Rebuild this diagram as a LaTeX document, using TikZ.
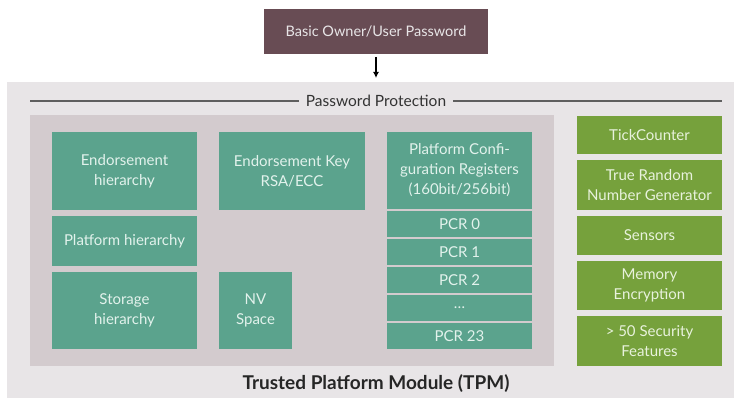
\documentclass[tikz,border=0pt]{standalone}
\usepackage{fontspec}
\setmainfont{Lato}
\usetikzlibrary{arrows.meta}
\definecolor{ownerMaroon}{RGB}{104,76,84}
\definecolor{moduleGray}{RGB}{232,229,231}
\definecolor{coreGray}{RGB}{211,203,206}
\definecolor{keyTeal}{RGB}{91,163,141}
\definecolor{featureGreen}{RGB}{118,161,60}
\definecolor{keyText}{RGB}{226,242,236}
\definecolor{featureText}{RGB}{232,242,220}
\definecolor{ruleGray}{RGB}{95,95,95}
\tikzstyle{tpmPicture} = [x = 1pt, y = -1pt]
\tikzstyle{panelStyle} = [inner sep = 0pt, outer sep = 0pt, draw = none, align = center]
\tikzstyle{keyStyle} = [panelStyle, fill = keyTeal, text = keyText, font = \fontsize{15}{20}\selectfont]
\tikzstyle{featureStyle} = [keyStyle, fill = featureGreen, text = featureText]
\tikzstyle{ownerStyle} = [panelStyle, fill = ownerMaroon, text = moduleGray, font = \fontsize{14.5}{20}\selectfont]
\tikzstyle{rulerLine} = [color = ruleGray, line width = 1.2pt]
\tikzstyle{ownerArrow} = [-{Latex[length = 6pt, width = 6pt]}, line width = 1.2pt]
% box from (x1,y1) to (x2,y2), pixel units
\newcommand{\tpmPanel}[7]{\node [#1, minimum width = {(#5 - #3) * 1pt}, minimum height = {(#6 - #4) * 1pt}] (#2) at ({(#3 + #5) / 2}, {(#4 + #6) / 2}) {#7};}

\begin{document}
\begin{tikzpicture}[tpmPicture]
  \useasboundingbox (0, 0) rectangle (734, 398);
  \fill [white] (0, 0) rectangle (734, 398);

  \tpmPanel{ownerStyle}{owner}{264}{9}{488}{54}{Basic Owner/User Password}

  \tpmPanel{panelStyle, fill = moduleGray}{module}{7}{82}{734}{398}{}
  \tpmPanel{panelStyle, fill = coreGray}{core}{30}{115}{554}{366}{}

  % password protection ruler
  \node [font = \fontsize{15.5}{18}\selectfont, text = black!80, inner xsep = 7pt] (protect) at (376, 101) {Password Protection};
  \coordinate (ruleLeft) at (30, 101);
  \coordinate (ruleRight) at (722, 101);
  \draw [rulerLine] (ruleLeft) -- (protect.west);
  \draw [rulerLine] (protect.east) -- (ruleRight);

  \draw [ownerArrow, shorten < = 3pt, shorten > = 4pt] (owner.south) -- (owner.south |- module.north);

  % hierarchies and keys
  \tpmPanel{keyStyle}{endorse}{52}{132}{197}{210}{Endorsement\\hierarchy}
  \tpmPanel{keyStyle}{platform}{52}{216}{197}{266}{Platform hierarchy}
  \tpmPanel{keyStyle}{storage}{52}{272}{197}{349}{Storage\\hierarchy}
  \tpmPanel{keyStyle}{ekey}{219}{132}{365}{210}{Endorsement Key\\RSA/ECC}
  \tpmPanel{keyStyle}{nvSpace}{219}{272}{292}{349}{NV\\Space}

  % platform configuration registers
  \tpmPanel{keyStyle}{pcrHead}{387}{132}{532}{209}{Platform Confi-\\guration Registers\\(160bit/256bit)}
  \tpmPanel{keyStyle}{pcrZero}{387}{211}{532}{237}{PCR 0}
  \tpmPanel{keyStyle}{pcrOne}{387}{239}{532}{265}{PCR 1}
  \tpmPanel{keyStyle}{pcrTwo}{387}{267}{532}{293}{PCR 2}
  \tpmPanel{keyStyle}{pcrDots}{387}{295}{532}{321}{\dots}
  \tpmPanel{keyStyle}{pcrLast}{387}{323}{532}{349}{PCR 23}

  % security features
  \tpmPanel{featureStyle}{tick}{577}{116}{722}{154}{TickCounter}
  \tpmPanel{featureStyle}{trng}{577}{160}{722}{210}{True Random\\Number Generator}
  \tpmPanel{featureStyle}{sensors}{577}{216}{722}{255}{Sensors}
  \tpmPanel{featureStyle}{memory}{577}{261}{722}{310}{Memory\\Encryption}
  \tpmPanel{featureStyle}{security}{577}{316}{722}{366}{> 50 Security\\Features}

  \node [font = \bfseries\fontsize{19}{20}\selectfont, text = black!85] (tpm) at (376, 384) {Trusted Platform Module (TPM)};
\end{tikzpicture}
\end{document}
